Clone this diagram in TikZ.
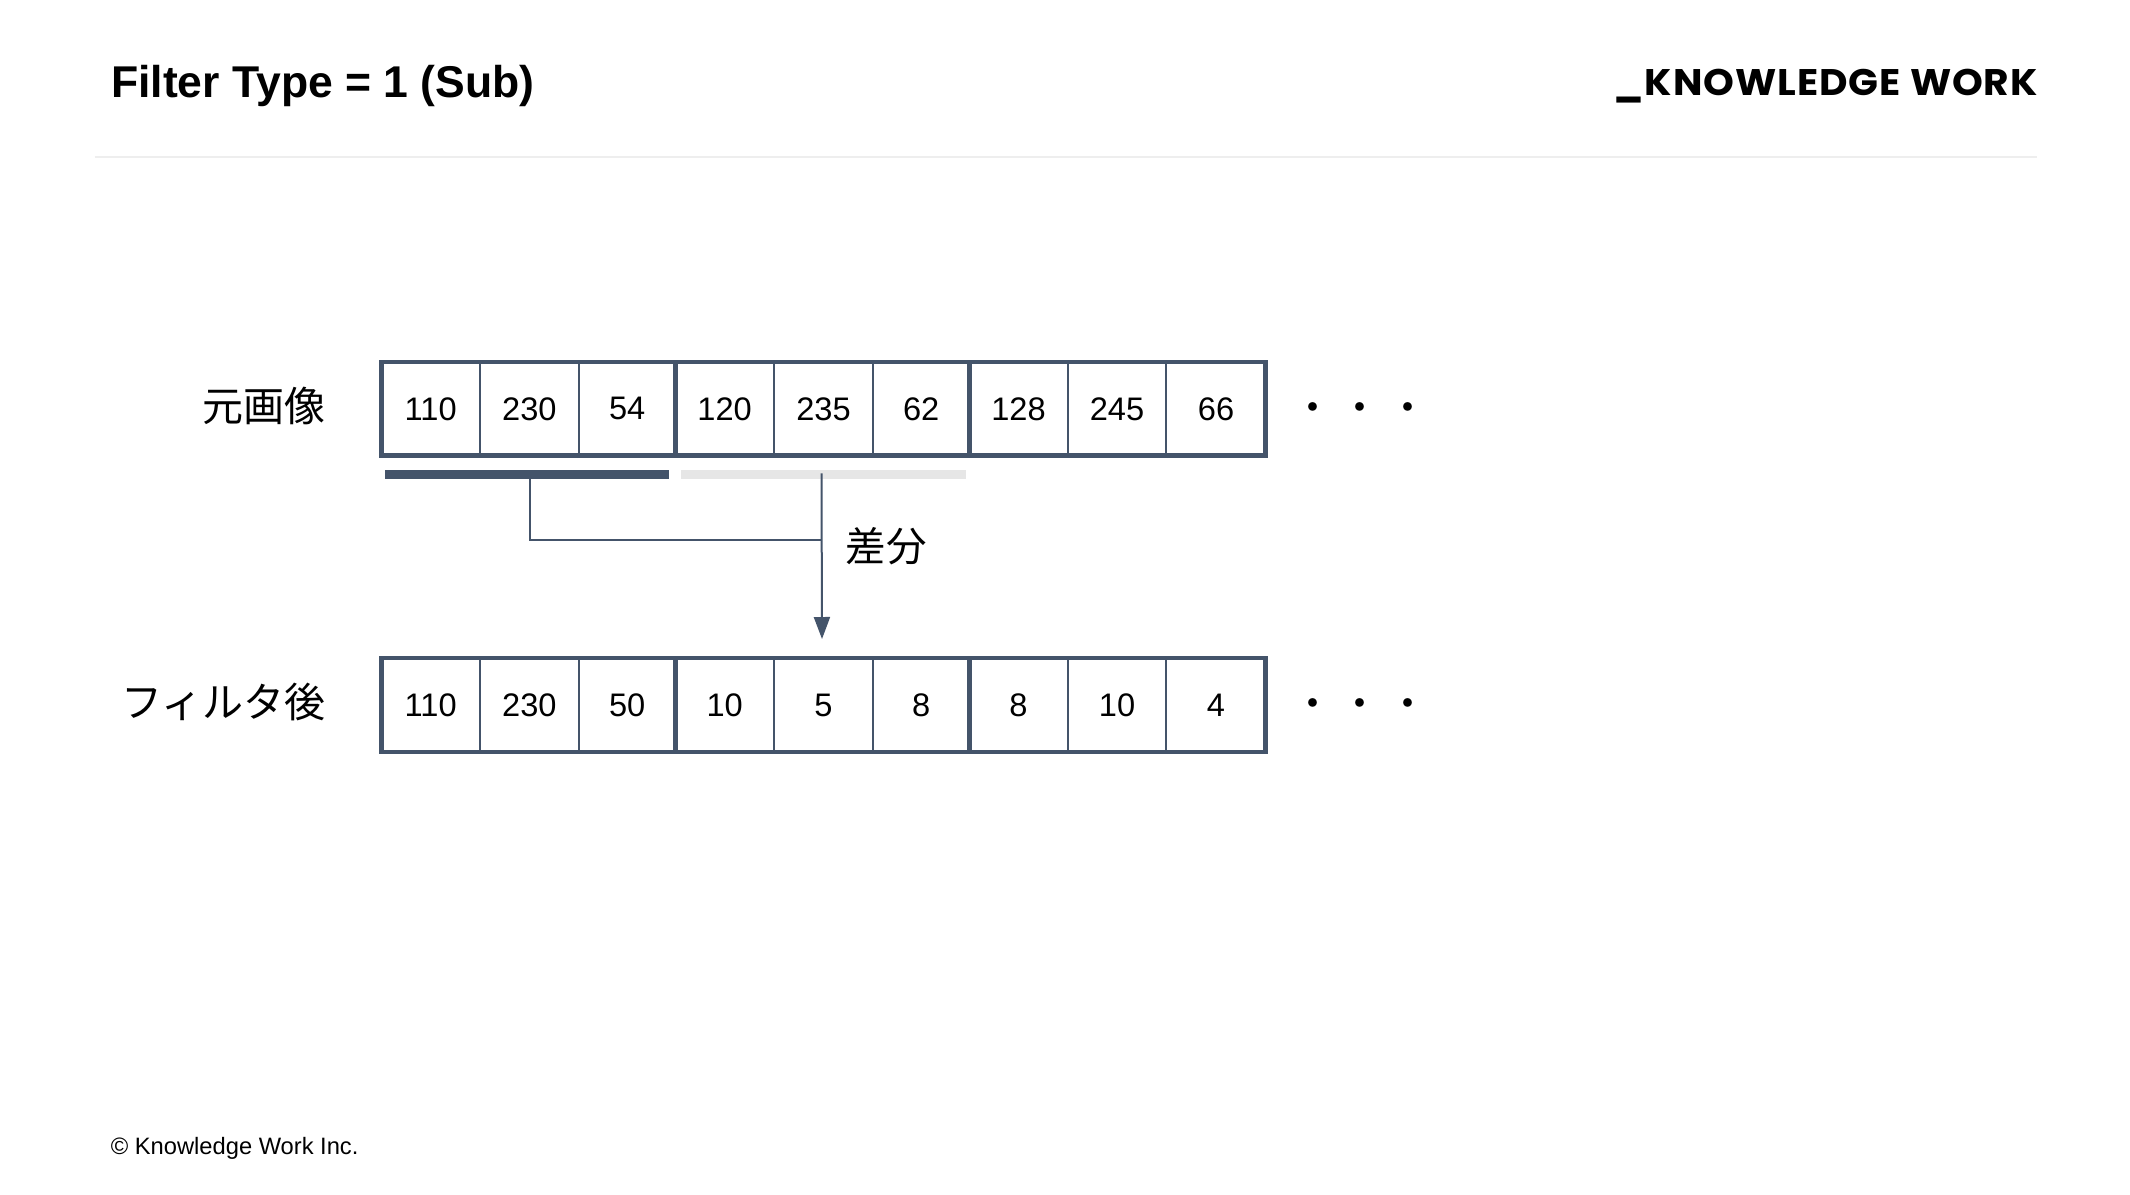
\documentclass[tikz,border=0pt]{standalone}
\usepackage{fontspec}
\setmainfont{Liberation Sans}
\newfontfamily\cjk{Noto Sans CJK JP}
\newfontfamily\logofont{Poppins}[LetterSpace=2.5,FakeStretch=1.06]
\usetikzlibrary{arrows.meta,fit}
\definecolor{slate}{HTML}{44546A}
\definecolor{palegray}{HTML}{E6E6E6}
\definecolor{rulegray}{HTML}{EEEEEE}
\tikzset{
  x=1pt,y=-1pt,
  cellbox/.style={draw=slate,line width=2pt,inner sep=0pt,outer sep=0pt,minimum height=93.7pt,font=\fontsize{32.6}{36}\selectfont},
  groupbox/.style={draw=slate,line width=4.5pt,inner sep=0pt,outer sep=0pt},
  barnode/.style={inner sep=0pt,minimum height=9pt},
  rowlabel/.style={inner sep=0pt,anchor=east,font=\cjk\fontsize{41}{44}\selectfont},
  dotmark/.style={inner sep=0pt,font=\cjk\fontsize{41}{44}\selectfont},
  link/.style={draw=slate,line width=2pt},
}
\begin{document}
\begin{tikzpicture}
\useasboundingbox[fill=white] (0,0) rectangle (2130,1194);
% header
\node[anchor=base west,inner sep=0pt,font=\bfseries\fontsize{44.5}{48}\selectfont] (title) at (111,97.5) {Filter Type = 1 (Sub)};
\node[anchor=base east,inner sep=0pt,font=\logofont\bfseries\fontsize{37}{40}\selectfont] (logo) at (2038,95) {\_KNOWLEDGE WORK};
\coordinate (ruleL) at (94.7,157);
\coordinate (ruleR) at (2037,157);
\draw[rulegray,line width=2.5pt] (ruleL) -- (ruleR);
\node[anchor=base west,inner sep=0pt,font=\fontsize{23.7}{26}\selectfont] (copy) at (110.7,1154) {© Knowledge Work Inc.};
% rows
\foreach \r/\yc/\ta/\tb/\tc/\td/\te/\tf/\tg/\th/\ti in {
  a/408.85/110/230/54/120/235/62/128/245/66,
  b/705/110/230/50/10/5/8/8/10/4}{
  \foreach \n/\xa/\xb/\t in {
    1/381.7/479.7/\ta,2/479.7/579/\tb,3/579/675.3/\tc,
    4/675.3/774/\td,5/774/873/\te,6/873/969.4/\tf,
    7/969.4/1067.7/\tg,8/1067.7/1166.3/\th,9/1166.3/1265.7/\ti}{
    \node[cellbox,minimum width={\xb-\xa}] (\r\n) at ({(\xa+\xb)/2},\yc) {\t};
  }
  \node[groupbox,fit=(\r1)(\r3)] (\r G1) {};
  \node[groupbox,fit=(\r4)(\r6)] (\r G2) {};
  \node[groupbox,fit=(\r7)(\r9)] (\r G3) {};
  \node[dotmark] (\r D1) at (1312.7,\yc+4) {・};
  \node[dotmark] (\r D2) at (1360,\yc+4) {・};
  \node[dotmark] (\r D3) at (1407.7,\yc+4) {・};
}
\node[rowlabel] (labelA) at (326,406) {元画像};
\node[rowlabel] (labelB) at (326,702) {フィルタ後};
% bars
\node[barnode,fill=slate,minimum width=284.3pt] (bar1) at (526.85,474.5) {};
\node[barnode,fill=palegray,minimum width=284.4pt] (bar2) at (823.6,474.5) {};
% connector
\coordinate (lead1) at (529.5,479);
\coordinate (lead2) at (821.5,473.3);
\coordinate (joint) at (821.5,540.3);
\coordinate (tip) at (822,639);
\draw[link] (lead1) |- (joint);
\draw[link,-{Triangle[length=22pt,width=16pt]}] (lead2) -- (tip);
\node[inner sep=0pt,font=\cjk\fontsize{40.5}{44}\selectfont] (diff) at (886,546) {差分};
\end{tikzpicture}
\end{document}
